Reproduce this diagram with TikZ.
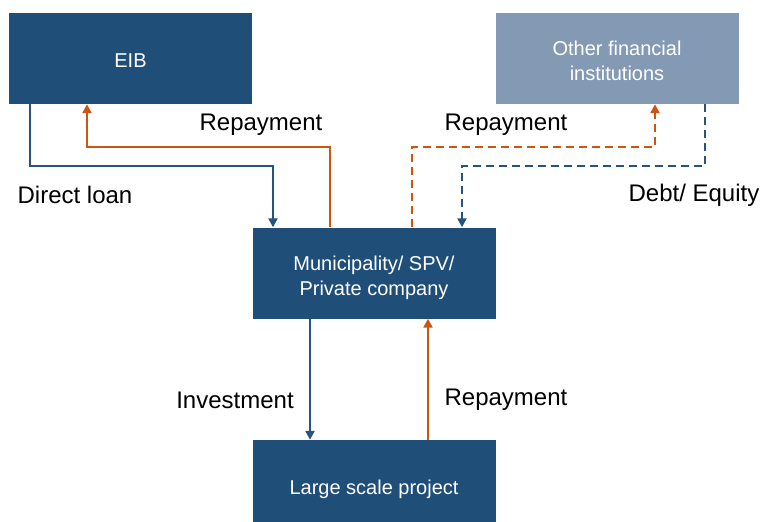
\documentclass[tikz,border=0pt]{standalone}
\usepackage{fontspec}
\setmainfont{Liberation Sans}
\usetikzlibrary{arrows.meta}
\definecolor{darkblue}{RGB}{31,78,121}
\definecolor{lineblue}{RGB}{38,84,128}
\definecolor{lightslate}{RGB}{132,153,179}
\definecolor{orng}{RGB}{204,85,17}
\newcommand{\lowertext}[2]{\raisebox{-#1}[\height][\depth]{#2}}
\newcommand{\twoline}[2]{\lowertext{4.5pt}{\begin{tabular}{@{}c@{}}#1\\#2\end{tabular}}}
\tikzset{
  box/.style={rectangle, fill=darkblue, minimum width=243pt, minimum height=91pt, inner sep=0pt, text=white, align=center, font=\fontsize{20}{25}\selectfont},
  lbl/.style={font=\fontsize{24}{27}\selectfont, text=black, inner sep=0pt, yshift=-2pt},
  flow/.style={line width=2.4pt, -{Triangle[length=9pt,width=9pt]}},
  dsh/.style={dash pattern=on 8pt off 5pt}
}
\begin{document}
\begin{tikzpicture}[x=1pt,y=-1pt]
\useasboundingbox (0,0) rectangle (761,522);
\node[box] (eib) at (130.5,58.5) {\lowertext{2.5pt}{EIB}};
\node[box, fill=lightslate] (ofi) at (617,58.5) {\twoline{Other financial}{institutions}};
\node[box] (muni) at (374,273) {\twoline{Municipality/ SPV/}{Private company}};
\node[box] (lsp) at (374,485.5) {\lowertext{4pt}{Large scale project}};
\coordinate (c1) at (30,166);
\coordinate (c2) at (273,166);
\coordinate (c3) at (330,147);
\coordinate (c4) at (87,147);
\coordinate (c5) at (412,147);
\coordinate (c6) at (655,147);
\coordinate (c7) at (705,166);
\coordinate (c8) at (462,166);
\draw[flow, lineblue] (eib.south -| c1) -- (c1) -- (c2) -- (muni.north -| c2);
\draw[flow, orng] (muni.north -| c3) -- (c3) -- (c4) -- (eib.south -| c4);
\draw[flow, orng, dsh] (muni.north -| c5) -- (c5) -- (c6) -- (ofi.south -| c6);
\draw[flow, lineblue, dsh] (ofi.south -| c7) -- (c7) -- (c8) -- (muni.north -| c8);
\coordinate (c9) at (310,0);
\coordinate (c10) at (428,0);
\draw[flow, lineblue] (muni.south -| c9) -- (lsp.north -| c9);
\draw[flow, orng] (lsp.north -| c10) -- (muni.south -| c10);
\node[lbl] (l1) at (261,123) {Repayment};
\node[lbl] (l2) at (75,193) {Direct loan};
\node[lbl] (l3) at (506,123) {Repayment};
\node[lbl] (l4) at (694,193) {Debt/ Equity};
\node[lbl] (l5) at (235,398) {Investment};
\node[lbl] (l6) at (506,398) {Repayment};
\end{tikzpicture}
\end{document}
